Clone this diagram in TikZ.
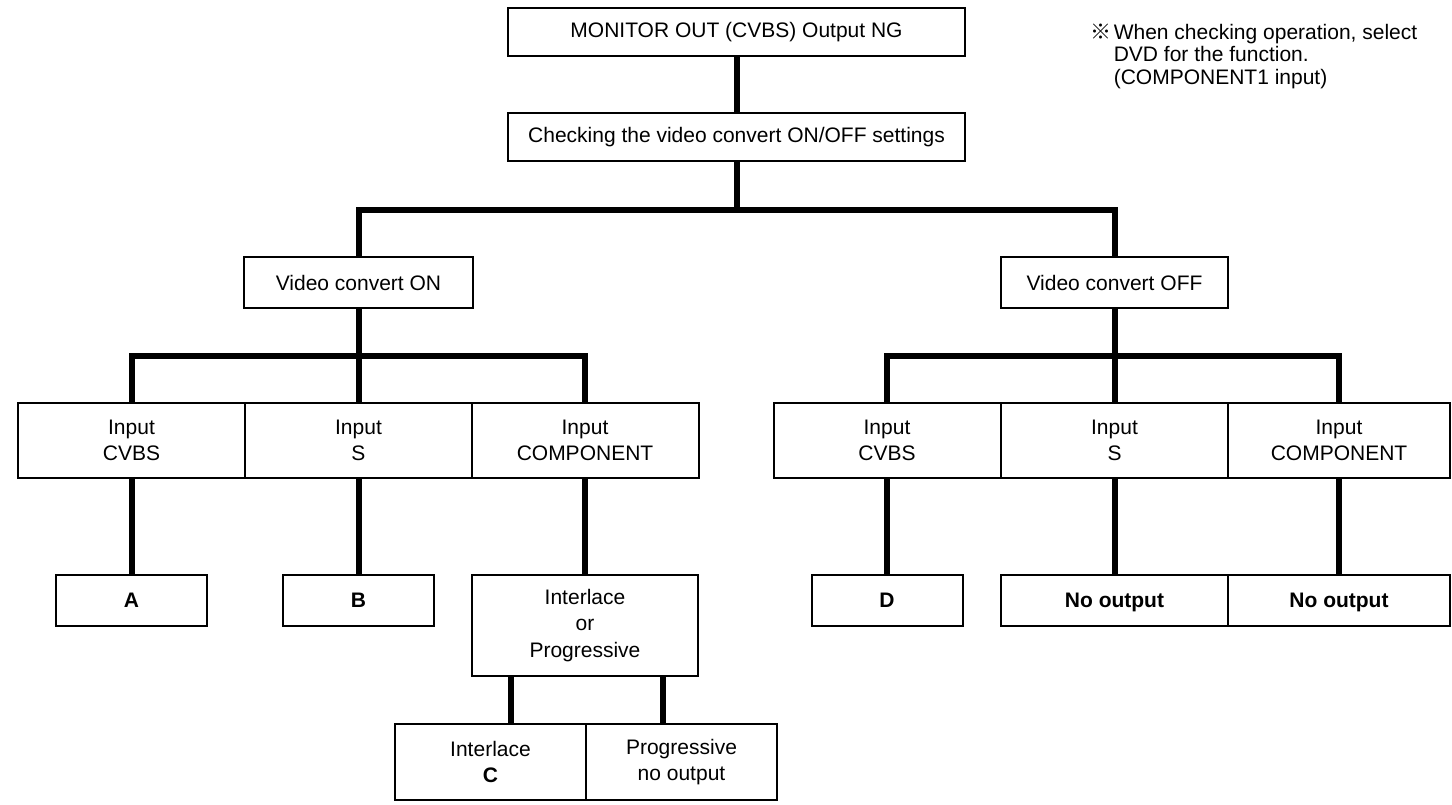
\documentclass[tikz,border=0pt]{standalone}
\usepackage{fontspec}
\setmainfont{Liberation Sans}
\newfontfamily\markfont{Noto Sans CJK JP}
\tikzset{
  box/.style={draw, fill=white, line width=1pt, inner sep=0pt, align=center,
    font=\fontsize{10.5}{12.8}\selectfont},
  inbox/.style={box, minimum width=113.5pt, minimum height=37.5pt},
  outbox/.style={box, minimum width=75.5pt, minimum height=25.5pt, text depth=0pt,
    font=\fontsize{10.5}{12.8}\selectfont\bfseries},
  wire/.style={line width=3pt},
}
\begin{document}
\begin{tikzpicture}[x=0.5pt, y=-0.5pt]
    \useasboundingbox (0,0) rectangle (1452,804) ;

    \node (mon) [box, minimum width=228.5pt, minimum height=24pt] at (736.5,32) {MONITOR OUT (CVBS) Output NG} ;
    \node (chk) [box, minimum width=228.5pt, minimum height=24pt] at (736.5,137) {Checking the video convert ON/OFF settings} ;
    \node (on) [box, minimum width=114.5pt, minimum height=25.5pt] at (358.5,282.5) {Video convert ON} ;
    \node (off) [box, minimum width=113.5pt, minimum height=25.5pt] at (1114.5,282.5) {Video convert OFF} ;

    \node (oncvbs) [inbox] at (131.5,440.5) {Input\\CVBS} ;
    \node (ons) [inbox] at (358.5,440.5) {Input\\S} ;
    \node (oncomp) [inbox] at (585,440.5) {Input\\COMPONENT} ;
    \node (offcvbs) [inbox] at (887,440.5) {Input\\CVBS} ;
    \node (offs) [inbox] at (1114.5,440.5) {Input\\S} ;
    \node (offcomp) [inbox, minimum width=111pt] at (1339,440.5) {Input\\COMPONENT} ;

    \node (outa) [outbox] at (131.5,600.5) {A} ;
    \node (outb) [outbox] at (358.5,600.5) {B} ;
    \node (outd) [outbox] at (887,600.5) {D} ;
    \node (offsno) [outbox, minimum width=113.5pt] at (1114.5,600.5) {No output} ;
    \node (offcompno) [outbox, minimum width=111pt] at (1339,600.5) {No output} ;

    \node (ilp) [box, minimum width=113pt, minimum height=50.5pt, font=\fontsize{10.5}{13.2}\selectfont] at (585,625.5) {Interlace\\or\\Progressive} ;
    \node (il) [box, minimum width=95.5pt, minimum height=38pt] at (490.5,762) {Interlace\\\textbf{C}} ;
    \node (prog) [box, minimum width=95.5pt, minimum height=38pt] at (681.5,762) {Progressive\\no output} ;

    \node (note) [anchor=base west, inner sep=0pt, font=\fontsize{10.5}{11.3}\selectfont] at (1090,39)
      {\begin{tabular}[t]{@{}l@{\hspace{1.2pt}}l@{}}
        {\markfont ※} & When checking operation, select\\
         & DVD for the function.\\
         & (COMPONENT1 input)
      \end{tabular}} ;

    \coordinate (topbar) at (737,210) ;
    \coordinate (onbar) at (358.5,356) ;
    \coordinate (offbar) at (1114.5,356) ;

    \draw [wire] (mon.south -| topbar) -- (chk.north -| topbar) ;
    \draw [wire] (chk.south -| topbar) -- (topbar) ;
    \draw [wire] (on.north) |- (topbar) -| (off.north) ;

    \draw [wire] (on.south) -- (onbar) ;
    \draw [wire] (oncvbs.north) |- (onbar) -| (oncomp.north) ;
    \draw [wire] (ons.north) -- (onbar) ;
    \draw [wire] (off.south) -- (offbar) ;
    \draw [wire] (offcvbs.north) |- (offbar) -| (offcomp.north) ;
    \draw [wire] (offs.north) -- (offbar) ;

    \draw [wire] (oncvbs.south) -- (outa.north) ;
    \draw [wire] (ons.south) -- (outb.north) ;
    \draw [wire] (oncomp.south) -- (ilp.north) ;
    \draw [wire] (offcvbs.south) -- (outd.north) ;
    \draw [wire] (offs.south) -- (offsno.north) ;
    \draw [wire] (offcomp.south) -- (offcompno.north) ;

    \draw [wire] ([xshift=-37pt]ilp.south) -- ([xshift=-37pt]ilp.south |- il.north) ;
    \draw [wire] ([xshift=39pt]ilp.south) -- ([xshift=39pt]ilp.south |- prog.north) ;
\end{tikzpicture}
\end{document}
